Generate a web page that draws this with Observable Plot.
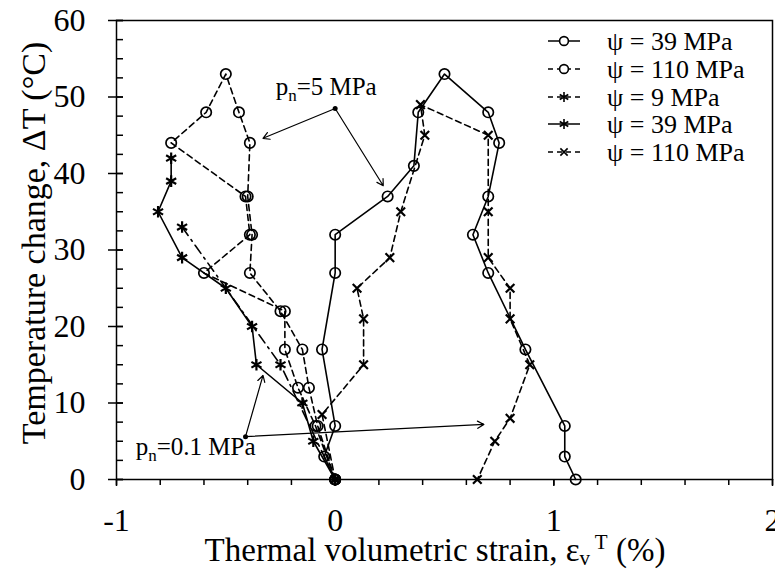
<!DOCTYPE html>
<html><head><meta charset="utf-8">
<script src="https://cdn.jsdelivr.net/npm/d3@7"></script>
<script src="https://cdn.jsdelivr.net/npm/@observablehq/plot@0.6"></script>
<style>body{margin:0;background:#fff;} svg{display:block}</style>
</head><body><div id="chart"></div>
<script>
// ---- data ----
const seriesLabels = ["ψ = 39 MPa", "ψ = 110 MPa", "ψ = 9 MPa", "ψ = 39 MPa", "ψ = 110 MPa"];
const seriesSymbols = ["circle", "circle", "asterisk", "asterisk", "times"];
const seriesDashes = [null, "6,4", "10,5,2,5", null, "6,4"];

// p_n = 5 MPa, ψ = 39 MPa (circles, solid)
const c39Strain = [0, -0.05, 0, -0.06, 0, 0, 0.24, 0.36, 0.38, 0.50, 0.70, 0.75, 0.70, 0.63, 0.70, 0.87, 1.05, 1.05, 1.10];
const c39Temp   = [0, 3, 7, 17, 27, 32, 37, 41, 48, 53, 48, 44, 37, 32, 27, 17, 7, 3, 0];
// p_n = 5 MPa, ψ = 110 MPa (circles, dashed)
const c110Strain = [0, -0.08, -0.12, -0.15, -0.25, -0.39, -0.38, -0.40, -0.39, -0.44, -0.50, -0.59, -0.75, -0.41, -0.39, -0.60, -0.23, -0.23, -0.17, -0.09, 0];
const c110Temp   = [0, 7, 12, 17, 22, 27, 32, 37, 44, 48, 53, 48, 44, 37, 32, 27, 22, 17, 12, 7, 0];
// p_n = 0.1 MPa, ψ = 9 MPa (asterisks, dash-dot)
const a9Strain = [0, -0.25, -0.70];
const a9Temp   = [0, 15, 33];
// p_n = 0.1 MPa, ψ = 39 MPa (asterisks, solid)
const a39Strain = [0, -0.10, -0.15, -0.36, -0.38, -0.50, -0.70, -0.81, -0.75, -0.75];
const a39Temp   = [0, 5, 10, 15, 20, 25, 29, 35, 39, 42];
// p_n = 0.1 MPa, ψ = 110 MPa (crosses, dashed)
const x110Strain = [0, -0.06, 0.13, 0.13, 0.10, 0.25, 0.30, 0.41, 0.39, 0.70, 0.70, 0.70, 0.80, 0.80, 0.89, 0.80, 0.73, 0.65];
const x110Temp   = [0, 8.5, 15, 21, 25, 29, 35, 45, 49, 45, 35, 29, 25, 21, 15, 8, 5, 0];

const xMajorTicks = [-1, 0, 1, 2];
const yMajorTicks = [0, 10, 20, 30, 40, 50, 60];

// annotations: label + arrow origin + arrow tips (data coords)
const annoLabels = ["5 MPa", "0.1 MPa"];
const annoLabelX = [-0.27, -0.91];
const annoLabelY = [50.2, 3.1];
const arrowFromX = [0.0, 0.0, -0.41, -0.41];
const arrowFromY = [48.5, 48.5, 5.6, 5.6];
const arrowToX   = [-0.33, 0.22, -0.33, 0.68];
const arrowToY   = [44.6, 38.4, 13.6, 7.2];

// ---- build tables ----
const strains = [c39Strain, c110Strain, a9Strain, a39Strain, x110Strain];
const temps = [c39Temp, c110Temp, a9Temp, a39Temp, x110Temp];
const seriesData = strains.map((xs, s) => xs.map((x, i) => ({s, x, y: temps[s][i]})));
const arrows = arrowFromX.map((x1, i) => ({x1, y1: arrowFromY[i], x2: arrowToX[i], y2: arrowToY[i]}));
const origins = [{x: arrowFromX[0], y: arrowFromY[0]}, {x: arrowFromX[2], y: arrowFromY[2]}];

const FONT = "Liberation Serif, Times New Roman, serif";
const symR = {circle: 5.2, asterisk: 5.5, times: 4};
const blank = () => "";

const marks = [];
seriesData.forEach((d, s) => {
  marks.push(Plot.line(d, {x: "x", y: "y", stroke: "black", strokeWidth: 1.6,
    strokeDasharray: seriesDashes[s] || undefined}));
  marks.push(Plot.dot(d, {x: "x", y: "y", symbol: () => seriesSymbols[s], r: symR[seriesSymbols[s]],
    stroke: "black", fill: "none", strokeWidth: seriesSymbols[s] === "circle" ? 1.7 : 2.2}));
});
marks.push(Plot.arrow(arrows, {x1: "x1", y1: "y1", x2: "x2", y2: "y2", stroke: "black", strokeWidth: 1.2, headLength: 9}));
marks.push(Plot.dot(origins, {x: "x", y: "y", r: 2.5, fill: "black"}));

// axes
marks.push(Plot.axisX({ticks: xMajorTicks, tickSize: 7, tickPadding: 22, fontSize: 32, strokeWidth: 1.5,
  tickFormat: d => (d < 0 ? "-" + Math.abs(d) : String(d)), label: null}));
marks.push(Plot.axisX({ticks: d3.range(-1, 2.001, 0.2), tickSize: 6, strokeWidth: 1.5, tickFormat: blank, label: null}));
marks.push(Plot.axisY({ticks: yMajorTicks, tickSize: 8, tickPadding: 23, fontSize: 32, strokeWidth: 1.5, label: null}));
marks.push(Plot.axisY({ticks: yMajorTicks, tickSize: 7, dx: 7, strokeWidth: 1.5, tickFormat: blank, label: null}));
marks.push(Plot.axisY({ticks: d3.range(0, 60.01, 2.5), tickSize: 7, dx: 7, strokeWidth: 1.5, tickFormat: blank, label: null}));
marks.push(Plot.frame({stroke: "black", strokeWidth: 1.5}));

const chart = Plot.plot({
  width: 775, height: 571,
  marginLeft: 116, marginRight: 3, marginTop: 20, marginBottom: 92,
  x: {domain: [-1, 2]},
  y: {domain: [0, 60]},
  style: {fontFamily: FONT, background: "white", color: "black"},
  marks
});
document.getElementById("chart").appendChild(chart);

const svg = d3.select(chart);
const xs = chart.scale("x"), ys = chart.scale("y");

// axis titles
const xl = svg.append("text").attr("x", 435).attr("y", 561).attr("text-anchor", "middle")
  .attr("font-family", FONT).attr("font-size", 33).attr("fill", "black");
xl.append("tspan").text("Thermal volumetric strain, ε");
xl.append("tspan").attr("font-size", 21).attr("dy", 4).text("v");
xl.append("tspan").attr("font-size", 21).attr("dy", -16).text(" T");
xl.append("tspan").attr("dy", 12).text(" (%)");

svg.append("text").attr("transform", "translate(45,243) rotate(-90)").attr("text-anchor", "middle")
  .attr("font-family", FONT).attr("font-size", 34).attr("fill", "black")
  .text("Temperature change, ΔT (°C)");

// annotation labels p_n = ...
annoLabels.forEach((lab, i) => {
  const t = svg.append("text").attr("x", xs.apply(annoLabelX[i])).attr("y", ys.apply(annoLabelY[i]))
    .attr("text-anchor", "start")
    .attr("font-family", FONT).attr("font-size", 25).attr("fill", "black");
  t.append("tspan").text("p");
  t.append("tspan").attr("font-size", 17).attr("dy", 6).text("n");
  t.append("tspan").attr("dy", -6).text("=" + lab);
});

// legend
const rowY = [41, 69, 97, 124, 152];
const lg = svg.append("g");
seriesLabels.forEach((lab, i) => {
  const y = rowY[i];
  lg.append("line").attr("x1", 548).attr("x2", 580).attr("y1", y).attr("y2", y)
    .attr("stroke", "black").attr("stroke-width", 1.5)
    .attr("stroke-dasharray", seriesDashes[i] ? "5,4" : null);
  const sym = seriesSymbols[i] === "circle" ? d3.symbolCircle : seriesSymbols[i] === "asterisk" ? d3.symbolAsterisk : d3.symbolTimes;
  const r = symR[seriesSymbols[i]] * 0.85;
  lg.append("path").attr("d", d3.symbol(sym, Math.PI * r * r)()).attr("transform", `translate(564,${y})`)
    .attr("fill", seriesSymbols[i] === "circle" ? "white" : "none").attr("stroke", "black").attr("stroke-width", 1.6);
  lg.append("text").attr("x", 607).attr("y", y).attr("dy", "0.35em").attr("text-anchor", "start")
    .attr("font-family", FONT).attr("font-size", 26).attr("fill", "black").text(lab);
});
</script></body></html>
